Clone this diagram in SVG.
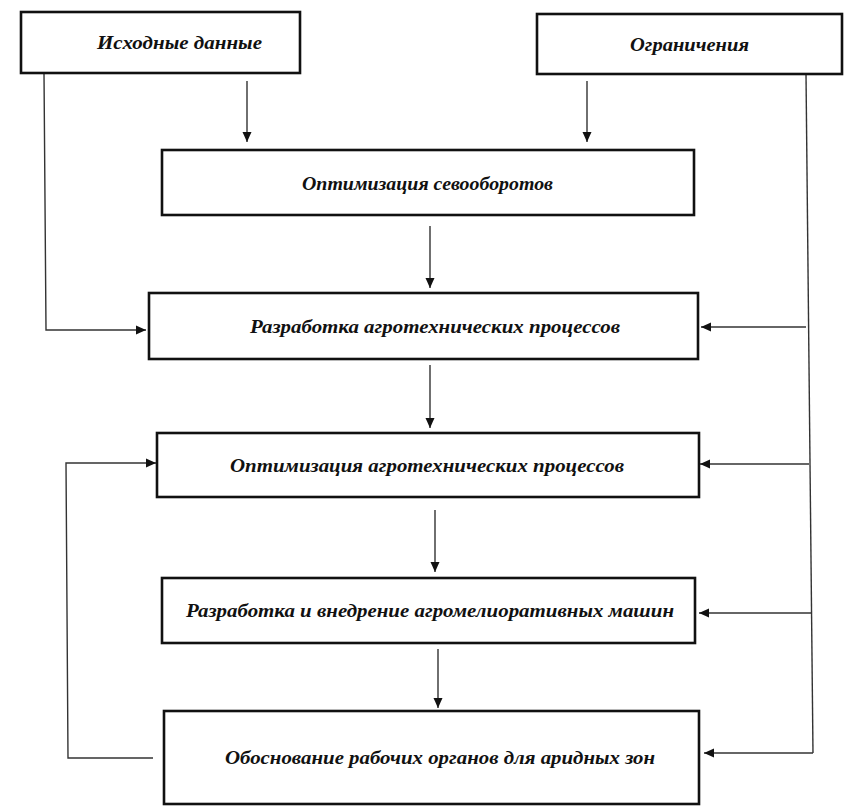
<svg xmlns="http://www.w3.org/2000/svg" width="859" height="809" viewBox="0 0 859 809">
<style>
.box{fill:#fff;stroke:#111;stroke-width:2.6}
.lbl{font-family:"Liberation Serif","Times New Roman",serif;font-weight:bold;font-style:italic;font-size:18px;fill:#111;text-anchor:middle}
.tall{font-size:19.5px}
.con{fill:none;stroke:#333;stroke-width:1.4}
.arr{marker-end:url(#ah)}
</style>
<defs>
<marker id="ah" markerUnits="userSpaceOnUse" markerWidth="12" markerHeight="12" viewBox="0 0 12 12" refX="11" refY="6" orient="auto">
<path d="M1,1.5 L11,6 L1,10.5 Z" fill="#111"/>
</marker>
</defs>
<rect width="859" height="809" fill="#fff"/>
<g id="connectors">
<line class="con arr" x1="247" y1="81" x2="247" y2="142"/>
<line class="con arr" x1="587" y1="81" x2="587" y2="142"/>
<line class="con arr" x1="430" y1="226" x2="430" y2="288"/>
<line class="con arr" x1="430" y1="365" x2="430" y2="428"/>
<line class="con arr" x1="435" y1="510" x2="435" y2="572"/>
<line class="con arr" x1="438" y1="649" x2="438" y2="708"/>
<polyline class="con arr" points="44,73 46,330 146,330"/>
<polyline class="con" points="806,74 813,753"/>
<line class="con arr" x1="806" y1="327" x2="701" y2="327"/>
<line class="con arr" x1="809" y1="464" x2="700" y2="464"/>
<line class="con arr" x1="811" y1="613" x2="699" y2="613"/>
<line class="con arr" x1="813" y1="753" x2="704" y2="753"/>
<polyline class="con arr" points="153,758 68,758 66,463 156,463"/>
</g>
<g id="n1"><rect class="box" x="21" y="12" width="279" height="61"/><text class="lbl" x="179.5" y="49" textLength="165" lengthAdjust="spacingAndGlyphs">Исходные данные</text></g>
<g id="n2"><rect class="box" x="537" y="14" width="305" height="60"/><text class="lbl" x="689.5" y="51" textLength="119" lengthAdjust="spacingAndGlyphs">Ограничения</text></g>
<g id="n3"><rect class="box" x="162" y="150" width="532" height="65"/><text class="lbl" x="427.5" y="190" textLength="251" lengthAdjust="spacingAndGlyphs">Оптимизация севооборотов</text></g>
<g id="n4"><rect class="box" x="149" y="293" width="549" height="66"/><text class="lbl tall" x="435" y="333" textLength="370" lengthAdjust="spacingAndGlyphs">Разработка агротехнических процессов</text></g>
<g id="n5"><rect class="box" x="157" y="433" width="542" height="64"/><text class="lbl tall" x="427" y="472" textLength="394" lengthAdjust="spacingAndGlyphs">Оптимизация агротехнических процессов</text></g>
<g id="n6"><rect class="box" x="162" y="578" width="533" height="65"/><text class="lbl tall" x="430" y="617" textLength="488" lengthAdjust="spacingAndGlyphs">Разработка и внедрение агромелиоративных машин</text></g>
<g id="n7"><rect class="box" x="164" y="711" width="535" height="93"/><text class="lbl tall" x="440" y="764" textLength="430" lengthAdjust="spacingAndGlyphs">Обоснование рабочих органов для аридных зон</text></g>
</svg>
